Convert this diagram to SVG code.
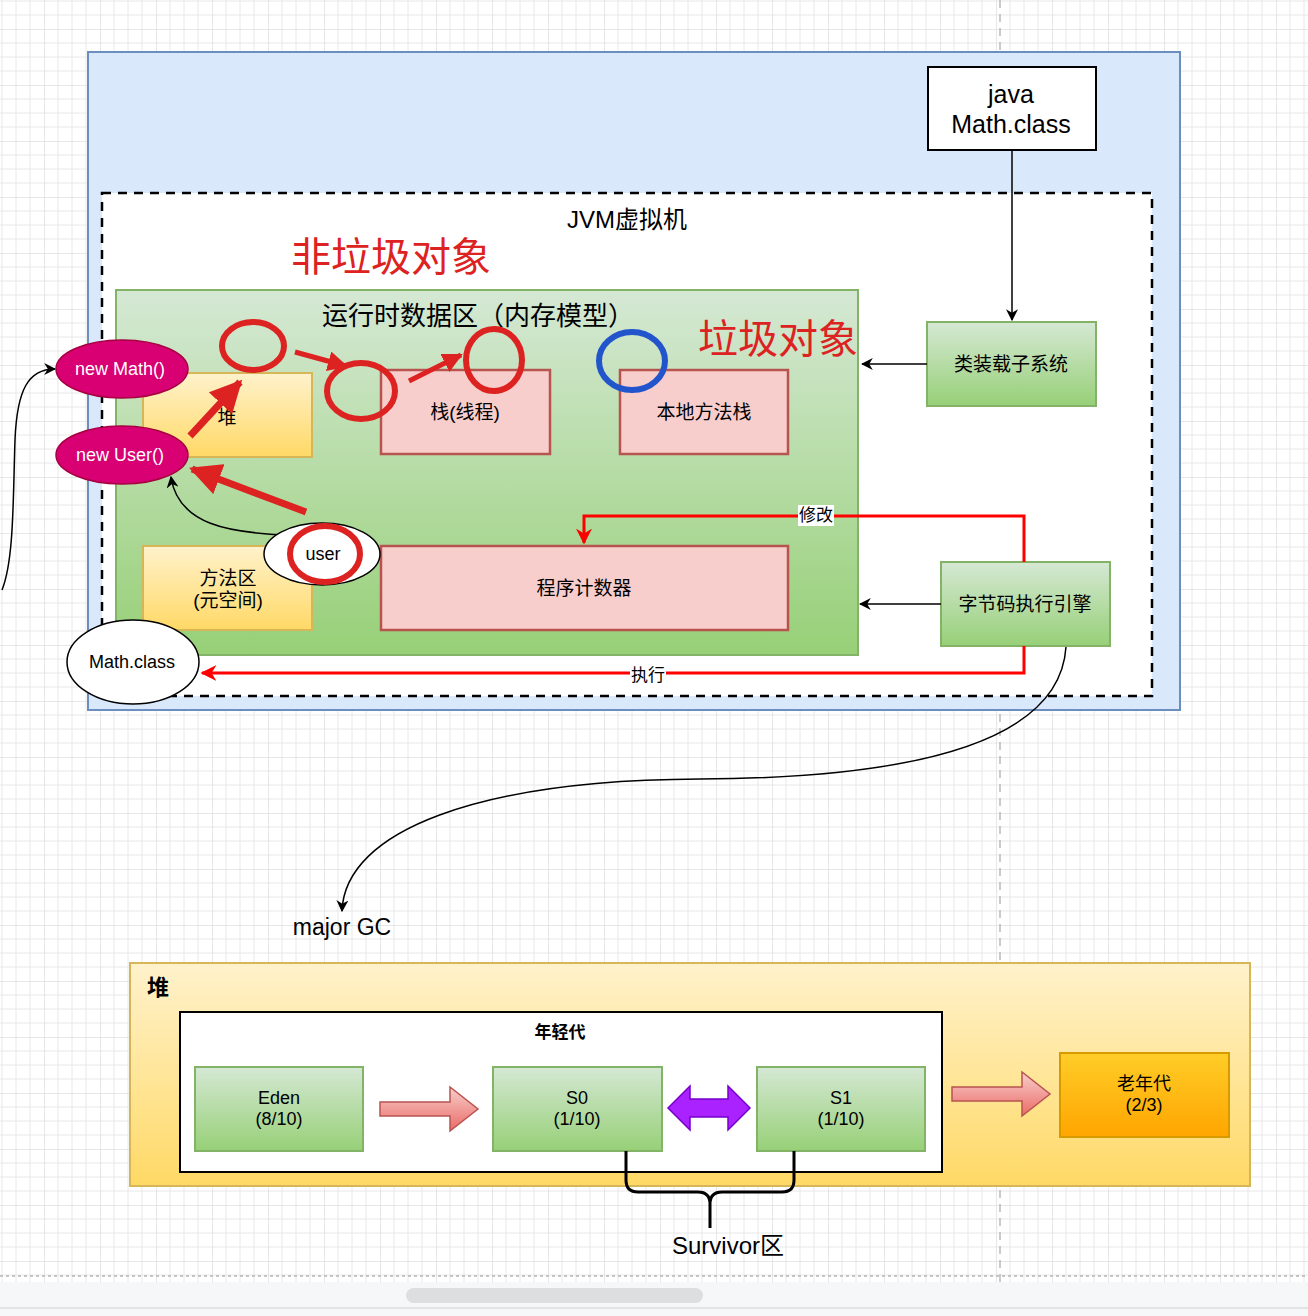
<svg xmlns="http://www.w3.org/2000/svg" width="1308" height="1316" viewBox="0 0 1308 1316">
<defs>
<pattern id="grid" patternUnits="userSpaceOnUse" x="44" y="29" width="56" height="56">
<path d="M14,0V56M28,0V56M42,0V56M0,14H56M0,28H56M0,42H56" stroke="#e8e8e8" stroke-width="1" fill="none"/>
<path d="M0,0V56M0,0H56" stroke="#d0d0d0" stroke-width="1" fill="none"/>
</pattern>
<linearGradient id="gGreen" x1="0" y1="0" x2="0" y2="1"><stop offset="0" stop-color="#d5e8d4"/><stop offset="1" stop-color="#97d077"/></linearGradient>
<linearGradient id="gYellow" x1="0" y1="0" x2="0" y2="1"><stop offset="0" stop-color="#fff2cc"/><stop offset="1" stop-color="#ffd966"/></linearGradient>
<linearGradient id="gOrange" x1="0" y1="0" x2="0" y2="1"><stop offset="0" stop-color="#ffcd28"/><stop offset="1" stop-color="#ffa500"/></linearGradient>
<linearGradient id="gPink" x1="0" y1="0" x2="0" y2="1"><stop offset="0" stop-color="#f8cecc"/><stop offset="1" stop-color="#ea6b66"/></linearGradient>
<marker id="ah" viewBox="0 0 10 10" refX="9" refY="5" markerWidth="12" markerHeight="12" markerUnits="userSpaceOnUse" orient="auto"><path d="M0,0 L10,5 L0,10 L3,5 z" fill="#000"/></marker>
<marker id="ahRed" viewBox="0 0 10 10" refX="9" refY="5" markerWidth="16" markerHeight="16" markerUnits="userSpaceOnUse" orient="auto"><path d="M0,0 L10,5 L0,10 L3,5 z" fill="#ff0000"/></marker>
<marker id="bigRed" viewBox="0 0 10 10" refX="9" refY="5" markerWidth="32" markerHeight="32" markerUnits="userSpaceOnUse" orient="auto"><path d="M0,0 L10,5 L0,10 z" fill="#dd2222"/></marker>
<marker id="smRed" viewBox="0 0 10 10" refX="9" refY="5" markerWidth="20" markerHeight="20" markerUnits="userSpaceOnUse" orient="auto"><path d="M0,0 L10,5 L0,10 z" fill="#dd2222"/></marker>
</defs>
<style>
text{font-family:"Liberation Sans","Noto Sans CJK SC",sans-serif;fill:#000;text-anchor:middle;dominant-baseline:central}
.green{fill:url(#gGreen);stroke:#82b366;stroke-width:2}
.yellow{fill:url(#gYellow);stroke:#d6b656;stroke-width:2}
.pink{fill:#f8cecc;stroke:#b85450;stroke-width:2.5}
.node{font-size:19px}
.magenta{fill:#d80073;stroke:#a50040;stroke-width:1.5}
.wtxt{fill:#fff;font-size:18px}
.redring{fill:none;stroke:#dd2222;stroke-width:6}
.conn{fill:none;stroke:#000;stroke-width:1.5}
.redline{fill:none;stroke:#ff0000;stroke-width:3}
.fat{fill:none;stroke:#dd2222}
</style>
<rect x="0" y="0" width="1308" height="1316" fill="#fff"/>
<rect x="0" y="0" width="1308" height="1282" fill="url(#grid)"/>
<line x1="1000" y1="0" x2="1000" y2="1282" stroke="#bbb" stroke-width="1.5" stroke-dasharray="8 6"/>
<line x1="0" y1="1276" x2="1308" y2="1276" stroke="#c4c4c4" stroke-width="2" stroke-dasharray="3 3"/>
<rect x="0" y="1282" width="1308" height="34" fill="#f6f7f8"/>
<line x1="0" y1="1308" x2="1308" y2="1308" stroke="#e2e4e6" stroke-width="2"/>
<rect x="406" y="1288" width="297" height="15" rx="7.5" fill="#dcdedf"/>

<g id="outer-blue"><rect x="88" y="52" width="1092" height="658" fill="#dae8fc" stroke="#6c8ebf" stroke-width="2"/></g>
<g id="jvm"><rect x="102" y="193" width="1050" height="503" fill="#fff" stroke="#000" stroke-width="2.5" stroke-dasharray="9 7"/>
<text x="627" y="219" font-size="24">JVM虚拟机</text></g>
<text x="391" y="257" font-size="40" style="fill:#dd2222">非垃圾对象</text>
<g id="runtime"><rect x="116" y="290" width="742" height="365" class="green"/>
<text x="478" y="316" font-size="26">运行时数据区（内存模型）</text></g>
<g id="heap-node"><rect x="143" y="373" width="169" height="84" class="yellow"/><text x="227" y="417" class="node">堆</text></g>
<g id="stack"><rect x="381" y="370" width="169" height="84" class="pink"/><text x="465" y="412" class="node">栈(线程)</text></g>
<g id="native-stack"><rect x="620" y="370" width="168" height="84" class="pink"/><text x="704" y="412" class="node">本地方法栈</text></g>
<g id="method-area"><rect x="143" y="546" width="169" height="84" class="yellow"/><text x="228" y="578" class="node">方法区</text><text x="228" y="600" class="node">(元空间)</text></g>
<g id="pc"><rect x="381" y="546" width="407" height="84" class="pink"/><text x="584" y="588" class="node">程序计数器</text></g>
<g id="classloader"><rect x="927" y="322" width="169" height="84" class="green"/><text x="1011" y="364" class="node">类装载子系统</text></g>
<g id="javafile"><rect x="928" y="67" width="168" height="83" fill="#fff" stroke="#000" stroke-width="2"/><text x="1011" y="94" font-size="25">java</text><text x="1011" y="124" font-size="25">Math.class</text></g>
<g id="engine"><rect x="941" y="562" width="169" height="84" class="green"/><text x="1025" y="604" class="node">字节码执行引擎</text></g>

<g id="connectors">
<path class="conn" d="M1012,150 L1012,320" marker-end="url(#ah)"/>
<path class="conn" d="M927,364 L862,364" marker-end="url(#ah)"/>
<path class="conn" d="M941,604 L860,604" marker-end="url(#ah)"/>
<path class="redline" d="M1024,562 L1024,516 L584,516 L584,543" marker-end="url(#ahRed)"/>
<rect x="798" y="505" width="36" height="21" fill="#fff"/>
<text x="816" y="515" font-size="17">修改</text>
<path class="redline" d="M1024,646 L1024,673 L202,673" marker-end="url(#ahRed)"/>
<rect x="630" y="664" width="36" height="21" fill="#fff"/>
<text x="648" y="675" font-size="17">执行</text>
<path class="conn" d="M2,590 C14,560 13,500 15,440 C17,390 28,369 55,369" marker-end="url(#ah)"/>
<path class="conn" d="M288,535 C230,533 178,525 171,477" marker-end="url(#ah)"/>
<path class="conn" d="M1066,647 C1060,740 920,778 700,779 C480,780 345,830 342,911" marker-end="url(#ah)"/>
<path class="fat" stroke-width="7" d="M190,436 L240,382" marker-end="url(#bigRed)"/>
<path class="fat" stroke-width="7" d="M306,512 L192,469" marker-end="url(#bigRed)"/>
<path class="fat" stroke-width="5" d="M295,352 L346,366" marker-end="url(#smRed)"/>
<path class="fat" stroke-width="5" d="M409,381 L461,355" marker-end="url(#smRed)"/>
</g>

<g id="new-math"><ellipse cx="122" cy="369" rx="66" ry="29" class="magenta"/><text x="120" y="369" class="wtxt">new Math()</text></g>
<g id="new-user"><ellipse cx="122" cy="455" rx="66" ry="29" class="magenta"/><text x="120" y="455" class="wtxt">new User()</text></g>
<g id="user"><ellipse cx="322" cy="554" rx="58" ry="31" fill="#fff" stroke="#000" stroke-width="1.5"/><text x="323" y="554" font-size="18">user</text></g>
<g id="math-class"><ellipse cx="133" cy="662" rx="66" ry="42" fill="#fff" stroke="#000" stroke-width="1.5"/><text x="132" y="662" font-size="18">Math.class</text></g>

<g id="rings">
<ellipse cx="253" cy="346" rx="31" ry="24" class="redring"/>
<ellipse cx="361" cy="391" rx="34" ry="28" class="redring"/>
<ellipse cx="494" cy="360" rx="28" ry="31" class="redring"/>
<ellipse cx="325" cy="554" rx="35" ry="28" class="redring"/>
<ellipse cx="632" cy="361" rx="33" ry="29" fill="none" stroke="#2255cc" stroke-width="6"/>
</g>
<text x="778" y="339" font-size="40" style="fill:#dd2222">垃圾对象</text>
<text x="342" y="927" font-size="23">major GC</text>

<g id="heap-big"><rect x="130" y="963" width="1120" height="223" class="yellow"/><text x="158" y="987" font-size="22" font-weight="bold">堆</text></g>
<g id="young"><rect x="180" y="1012" width="762" height="160" fill="#fff" stroke="#000" stroke-width="2"/><text x="560" y="1032" font-size="17" font-weight="bold">年轻代</text></g>
<g id="eden"><rect x="195" y="1067" width="168" height="84" class="green"/><text x="279" y="1098" font-size="18">Eden</text><text x="279" y="1119" font-size="18">(8/10)</text></g>
<g id="s0"><rect x="493" y="1067" width="169" height="84" class="green"/><text x="577" y="1098" font-size="18">S0</text><text x="577" y="1119" font-size="18">(1/10)</text></g>
<g id="s1"><rect x="757" y="1067" width="168" height="84" class="green"/><text x="841" y="1098" font-size="18">S1</text><text x="841" y="1119" font-size="18">(1/10)</text></g>
<g id="old"><rect x="1060" y="1053" width="169" height="84" fill="url(#gOrange)" stroke="#d79b00" stroke-width="2"/><text x="1144" y="1084" font-size="18">老年代</text><text x="1144" y="1105" font-size="18">(2/3)</text></g>
<g id="block-arrows">
<path d="M380,1102 L450,1102 L450,1087 L478,1109 L450,1131 L450,1116 L380,1116 Z" fill="url(#gPink)" stroke="#b85450" stroke-width="1.5"/>
<path d="M952,1087 L1022,1087 L1022,1072 L1050,1094 L1022,1116 L1022,1101 L952,1101 Z" fill="url(#gPink)" stroke="#b85450" stroke-width="1.5"/>
<path d="M668,1108 L690,1086 L690,1099 L728,1099 L728,1086 L750,1108 L728,1130 L728,1117 L690,1117 L690,1130 Z" fill="#aa22ff" stroke="#7700cc" stroke-width="1.5"/>
<path d="M626,1151 L626,1180 Q626,1192 638,1192 L698,1192 Q710,1192 710,1204 L710,1228 M794,1151 L794,1180 Q794,1192 782,1192 L722,1192 Q710,1192 710,1204" fill="none" stroke="#000" stroke-width="3"/>
</g>
<text x="728" y="1245" font-size="24">Survivor区</text>
</svg>
